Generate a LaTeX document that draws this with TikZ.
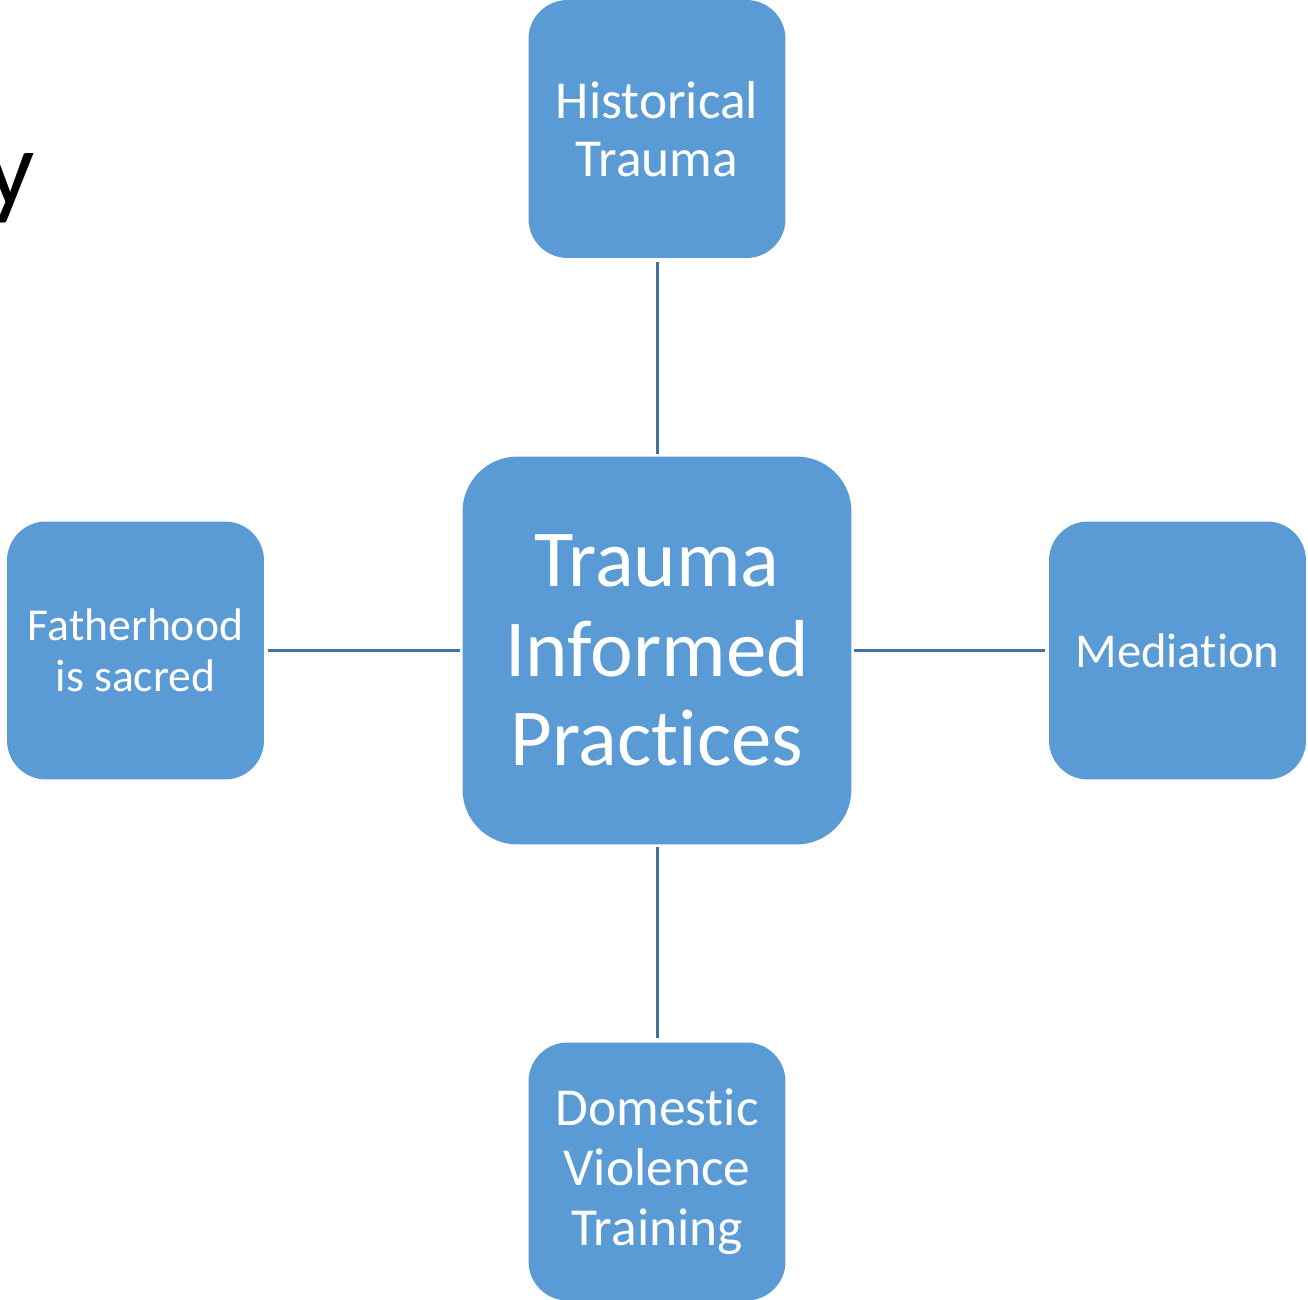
\documentclass[tikz,border=0pt]{standalone}
\usepackage{fontspec}
\setmainfont{Carlito}[Ligatures={NoCommon,NoRare}]
\definecolor{boxblue}{HTML}{5B9BD5}
\definecolor{lineblue}{HTML}{41719C}
\begin{document}
\begin{tikzpicture}[x=0.02cm, y=-0.02cm,
	smallbox/.style={fill=boxblue, draw=none, text=white, align=center, inner sep=0pt,
		minimum width=5.14cm, minimum height=5.16cm, rounded corners=0.78cm},
	bigbox/.style={fill=boxblue, draw=none, text=white, align=center, inner sep=0pt,
		minimum width=7.78cm, minimum height=7.76cm, rounded corners=1.1cm},
	link/.style={draw=lineblue, line width=0.06cm, shorten <=0.04cm, shorten >=0.08cm}]
	\useasboundingbox (0,0) rectangle (1308,1300);
	
	\node[anchor=base east, inner sep=0pt, font=\fontsize{62}{62}\selectfont] (ylet) at (35,206) {y};
	
	\node[bigbox, font=\fontsize{46}{51}\selectfont] (tip) at (657,650.5) {Trauma\\Informed\\Practices};
	
	\node[smallbox, font=\fontsize{30.4}{33}\selectfont] (hist) at (657,129) {Historical\\Trauma};
	\node[smallbox, font=\fontsize{26}{29}\selectfont] (father) at (135.5,650.5) {Fatherhood\\is sacred};
	\node[smallbox, font=\fontsize{27.7}{30}\selectfont] (med) at (1177.5,650.5) {Mediation};
	\node[smallbox, font=\fontsize{30.4}{34}\selectfont] (dv) at (657,1171.5) {Domestic\\Violence\\Training};
	
	\draw[link] (tip.north) -- (hist.south);
	\draw[link] (tip.west) -- (father.east);
	\draw[link] (tip.east) -- (med.west);
	\draw[link] (tip.south) -- (dv.north);
	
\end{tikzpicture}
\end{document}
